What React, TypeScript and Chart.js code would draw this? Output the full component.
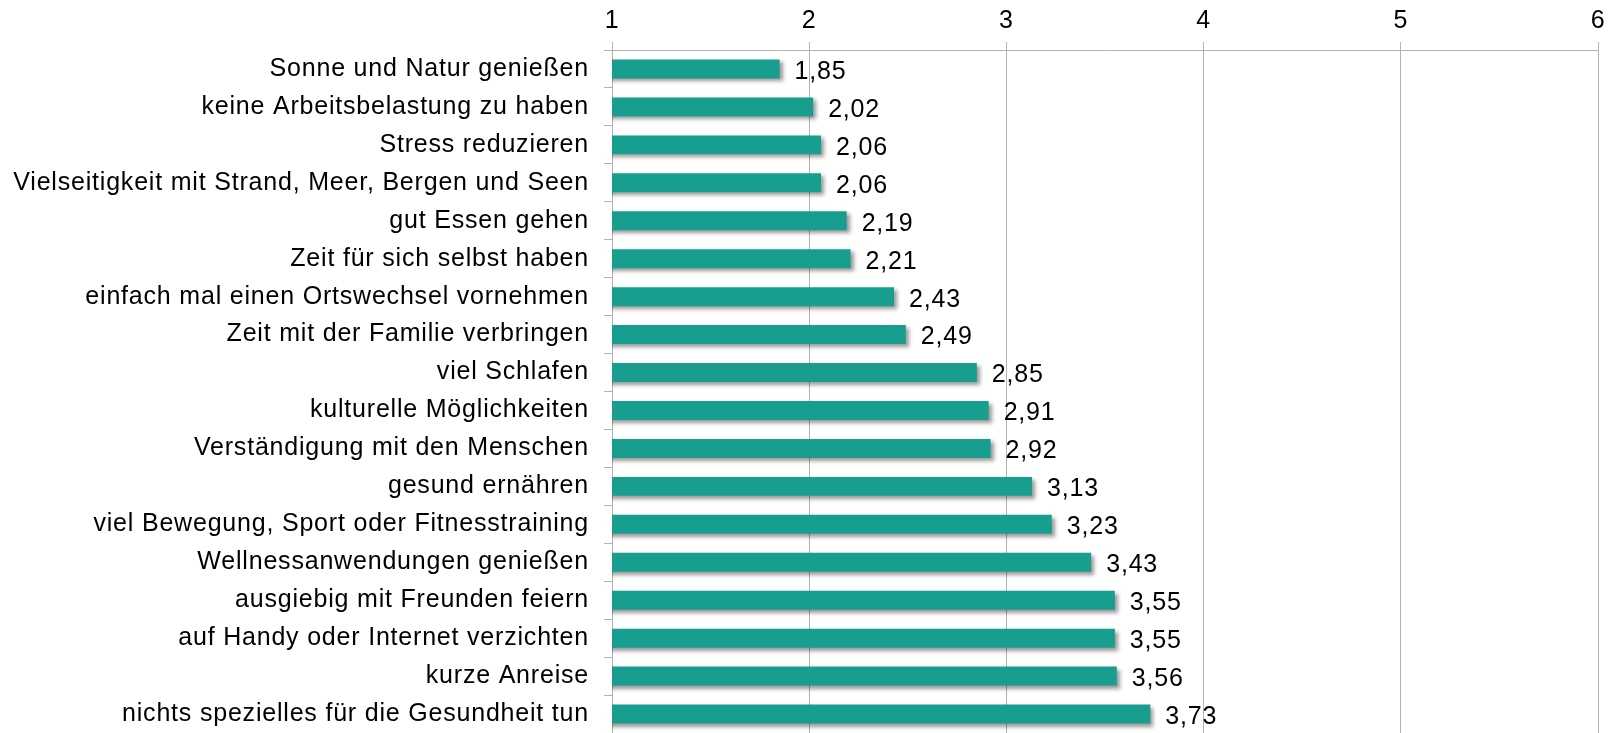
import React, { useEffect, useRef } from "react";
import { Chart, registerables } from "chart.js";

Chart.register(...registerables);

const categories = [
  "Sonne und Natur genießen",
  "keine Arbeitsbelastung zu haben",
  "Stress reduzieren",
  "Vielseitigkeit mit Strand, Meer, Bergen und Seen",
  "gut Essen gehen",
  "Zeit für sich selbst haben",
  "einfach mal einen Ortswechsel vornehmen",
  "Zeit mit der Familie verbringen",
  "viel Schlafen",
  "kulturelle Möglichkeiten",
  "Verständigung mit den Menschen",
  "gesund ernähren",
  "viel Bewegung, Sport oder Fitnesstraining",
  "Wellnessanwendungen genießen",
  "ausgiebig mit Freunden feiern",
  "auf Handy oder Internet verzichten",
  "kurze Anreise",
  "nichts spezielles für die Gesundheit tun",
];

const values = [
  1.85, 2.02, 2.06, 2.06, 2.19, 2.21, 2.43, 2.49, 2.85, 2.91, 2.92, 3.13, 3.23,
  3.43, 3.55, 3.55, 3.56, 3.73,
];

const axisMin = 1;
const axisMax = 6;

const FONT = "'Liberation Sans', Arial, sans-serif";

const spacingPlugin = {
  id: "letterSpacing",
  beforeDraw(chart: any) {
    (chart.ctx as any).letterSpacing = "0.8px";
  },
};

const shadowPlugin = {
  id: "barShadow",
  beforeDatasetDraw(chart: any) {
    const ctx = chart.ctx;
    ctx.save();
    ctx.shadowColor = "rgba(0,0,0,0.4)";
    ctx.shadowBlur = 4;
    ctx.shadowOffsetX = 3;
    ctx.shadowOffsetY = 3;
  },
  afterDatasetDraw(chart: any) {
    chart.ctx.restore();
  },
};

const valueLabelPlugin = {
  id: "valueLabels",
  afterDatasetsDraw(chart: any) {
    const ctx = chart.ctx;
    const meta = chart.getDatasetMeta(0);
    ctx.save();
    ctx.font = `25px ${FONT}`;
    ctx.fillStyle = "#000";
    ctx.textAlign = "left";
    ctx.textBaseline = "middle";
    meta.data.forEach((bar: any, i: number) => {
      const v = chart.data.datasets[0].data[i] as number;
      ctx.fillText(v.toFixed(2).replace(".", ","), bar.x + 15, bar.y + 3);
    });
    ctx.restore();
  },
};

export default function App() {
  const ref = useRef<HTMLCanvasElement>(null);

  useEffect(() => {
    if (!ref.current) return;
    const chart = new Chart(ref.current, {
      type: "bar",
      data: {
        labels: categories,
        datasets: [
          {
            data: values,
            backgroundColor: "#179e8f",
            borderWidth: 0,
            barPercentage: 0.5,
            categoryPercentage: 1,
          },
        ],
      },
      options: {
        indexAxis: "y",
        animation: false,
        responsive: false,
        maintainAspectRatio: false,
        layout: { padding: { top: 0, right: 14, bottom: -1, left: 0 } },
        plugins: {
          legend: { display: false },
          tooltip: { enabled: false },
        },
        scales: {
          x: {
            position: "top",
            min: axisMin,
            max: axisMax,
            ticks: {
              stepSize: 1,
              color: "#000",
              font: { family: FONT, size: 25 },
              padding: 6,
            },
            grid: {
              color: "#b3b3b3",
              lineWidth: 1,
              tickLength: 8,
            },
            border: { color: "#b3b3b3" },
            afterFit(scale: any) {
              scale.height = 50;
              scale.paddingLeft = 0;
              scale.paddingRight = 0;
            },
          },
          y: {
            ticks: {
              color: "#000",
              font: { family: FONT, size: 25 },
              padding: 15,
            },
            grid: {
              color: "#b3b3b3",
              drawOnChartArea: false,
              tickLength: 8,
              offset: true,
            },
            border: { color: "#b3b3b3" },
            afterFit(scale: any) {
              scale.width = 612;
              scale.paddingTop = 0;
              scale.paddingBottom = 0;
            },
          },
        },
      },
      plugins: [spacingPlugin, shadowPlugin, valueLabelPlugin],
    } as any);
    return () => chart.destroy();
  }, []);

  return (
    <div style={{ position: "absolute", left: 0, top: 0, width: 1612, height: 733, background: "#fff" }}>
      <canvas ref={ref} width={1612} height={733} style={{ display: "block" }} />
    </div>
  );
}
